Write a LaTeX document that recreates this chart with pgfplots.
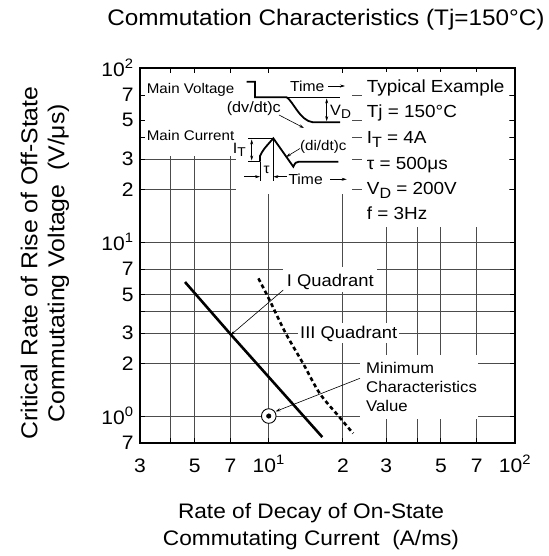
\documentclass[border=0pt]{standalone}
\usepackage{fontspec}
\setmainfont{Liberation Sans}[FakeStretch=1.08]
\usepackage{graphicx}
\usepackage{pgfplots}
\pgfplotsset{compat=1.18}
\usetikzlibrary{arrows.meta}

\newcommand\fsmall{\fontsize{14bp}{16bp}\selectfont}
\newcommand\fmid{\fontsize{17bp}{20bp}\selectfont}
\newcommand\fnote{\fontsize{15.5bp}{19bp}\selectfont}
\newcommand\fbig{\fontsize{21bp}{27bp}\selectfont}
\newcommand\sub[1]{\raisebox{-0.4ex}{\scalebox{0.85}{#1}}}

\begin{document}
\begin{tikzpicture}
\useasboundingbox (0,0) rectangle (549bp,556bp);
\begin{axis}[
    at={(140bp,113bp)}, anchor=south west,
    scale only axis, width=375bp, height=375bp,
    xmode=log, ymode=log,
    xmin=3, xmax=100, ymin=0.7, ymax=100,
    xtick={3,4,5,7,10,20,30,40,50,70,100},
    xticklabels={3,,5,7,10\textsuperscript{1},2,3,,5,7,10\textsuperscript{2}},
    ytick={0.7,1,2,3,4,5,7,10,20,30,40,50,70,100},
    yticklabels={7,10\textsuperscript{0},2,3,,5,7,10\textsuperscript{1},2,3,,5,7,10\textsuperscript{2}},
    minor xtick={}, minor ytick={},
    grid=major,
    major grid style={black!70, line width=0.8bp},
    tick align=inside,
    major tick length=5bp,
    tick style={black, line width=0.8bp},
    axis line style={line width=2bp},
    ticklabel style={font=\fontsize{19.5bp}{21bp}\selectfont},
    xticklabel style={anchor=base, yshift=-29bp},
    yticklabel style={xshift=-3bp},
]

% I Quadrant
\addplot[black, line width=2.6bp] coordinates {
    (4.57,5.89) (7,2.95) (16.5,0.757)
};
% III Quadrant
\addplot[black, line width=2.6bp, dash pattern=on 4bp off 3bp, smooth] coordinates {
    (9.08,6.18) (10,4.74) (11.7,3) (13.8,2) (16.1,1.35) (19.2,1) (22,0.795)
};
% minimum characteristics value
\addplot[only marks, mark=*, mark size=7.3bp, mark options={fill=white, draw=black, line width=0.9bp}] coordinates {(10,1)};
\addplot[only marks, mark=*, mark size=2.3bp, black] coordinates {(10,1)};
\end{axis}

% annotations, in pixel units of the 549x556 picture (y downwards)
\begin{scope}[x=1bp, y=-1bp, shift={(0bp,556bp)}, >={Stealth[length=5bp,width=3bp]}]
% white boxes under the texts
\fill[white] (145,73) rectangle (236,156);
\fill[white] (236,73) rectangle (352,194);
\fill[white] (362,72) rectangle (509,227);
\fill[white] (283,267) rectangle (377,292);
\fill[white] (298,323) rectangle (399,343);
\fill[white] (360,355) rectangle (478,419);

% inset: voltage
\node[anchor=west, font=\fsmall, inner sep=0] at (146.7,90) {Main Voltage};
\draw[line width=1.8bp] (246.7,81.7) -- (255,81.7) -- (255,97.3) -- (286.7,97.3)
    .. controls (293,101) and (300,121) .. (313,122.3) -- (340,122.3);
\draw[line width=0.7bp] (286.7,97.3) -- (340,97.3);
\draw[<->, line width=0.7bp] (326.7,98.5) -- (326.7,121.2);
\node[anchor=west, font=\fontsize{15bp}{17bp}\selectfont, inner sep=0] at (330,111.7) {V\sub{D}};
\node[anchor=west, font=\fontsize{14.5bp}{17bp}\selectfont, inner sep=0] at (290,86) {Time};
\draw[->, line width=0.6bp] (328.3,86) -- (345,86);
\node[anchor=east, font=\fontsize{15bp}{17bp}\selectfont, inner sep=0] at (281,108.5) {(dv/dt)c};
\draw[->, line width=0.6bp] (279,115) -- (304,128);

% inset: current
\node[anchor=west, font=\fsmall, inner sep=0] at (146.7,136) {Main Current};
\draw[line width=1.8bp] (260,161.7) -- (260,156) .. controls (263,150) .. (273.3,138.3)
    -- (293.3,166.7) .. controls (295,163) and (296,161.7) .. (299,161.7) -- (338.3,161.7);
\draw[line width=0.7bp] (248,138.3) -- (273.3,138.3);
\draw[line width=0.7bp] (248,161.7) -- (260,161.7);
\draw[<->, line width=0.7bp] (251.7,139.5) -- (251.7,160.5);
\node[anchor=east, font=\fontsize{15bp}{17bp}\selectfont, inner sep=0] at (246,150) {I\sub{T}};
\draw[line width=0.7bp] (260,161.7) -- (260,181);
\draw[line width=0.7bp] (273.3,138.3) -- (273.3,181);
\draw[->, line width=0.6bp] (244,176.7) -- (260,176.7);
\draw[->, line width=0.6bp] (287,176.7) -- (273.3,176.7);
\node[font=\fsmall, inner sep=0] at (266.7,170) {τ};
\node[anchor=west, font=\fontsize{14.5bp}{17bp}\selectfont, inner sep=0] at (288.3,179.3) {Time};
\draw[->, line width=0.6bp] (330,179.3) -- (346.7,179.3);
\node[anchor=west, font=\fsmall, inner sep=0] at (300,146.7) {(di/dt)c};
\draw[->, line width=0.6bp] (300,148.5) -- (286,157);

% typical example
\begin{scope}[every node/.style={anchor=base west, inner sep=0, font=\fontsize{17.5bp}{20bp}\selectfont}]
\node at (366.7,93) {Typical Example};
\node at (366.7,118) {Tj = 150°C};
\node at (366.7,143.6) {I\sub{T} = 4A};
\node at (366.7,169.6) {τ = 500μs};
\node at (366.7,194.6) {V\sub{D} = 200V};
\node at (366.7,219.6) {f = 3Hz};
\end{scope}

% curve labels
\node[anchor=base west, inner sep=0, font=\fmid] at (286.7,286.1) {I Quadrant};
\draw[->, line width=0.6bp] (283.3,290) -- (230.5,335.2);
\node[anchor=base west, inner sep=0, font=\fmid] at (300,338.8) {III Quadrant};
\node[anchor=base west, inner sep=0, font=\fnote] at (366,373.5) {Minimum};
\node[anchor=base west, inner sep=0, font=\fnote] at (366,392.5) {Characteristics};
\node[anchor=base west, inner sep=0, font=\fnote] at (366,411.5) {Value};
\draw[->, line width=0.6bp] (360,378.3) -- (275.5,411.5);

% titles
\node[font=\fontsize{22.5bp}{27bp}\selectfont] at (326,20) {Commutation Characteristics (Tj=150°C)};
\node[align=center, font=\fbig] at (311,526.5) {Rate of Decay of On-State\\Commutating Current \ (A/ms)};
\node[rotate=90, align=center, font=\fontsize{23bp}{27bp}\selectfont] at (45,263)
    {Critical Rate of Rise of Off-State\\Commutating Voltage \ (V/μs)};
\end{scope}
\end{tikzpicture}
\end{document}
